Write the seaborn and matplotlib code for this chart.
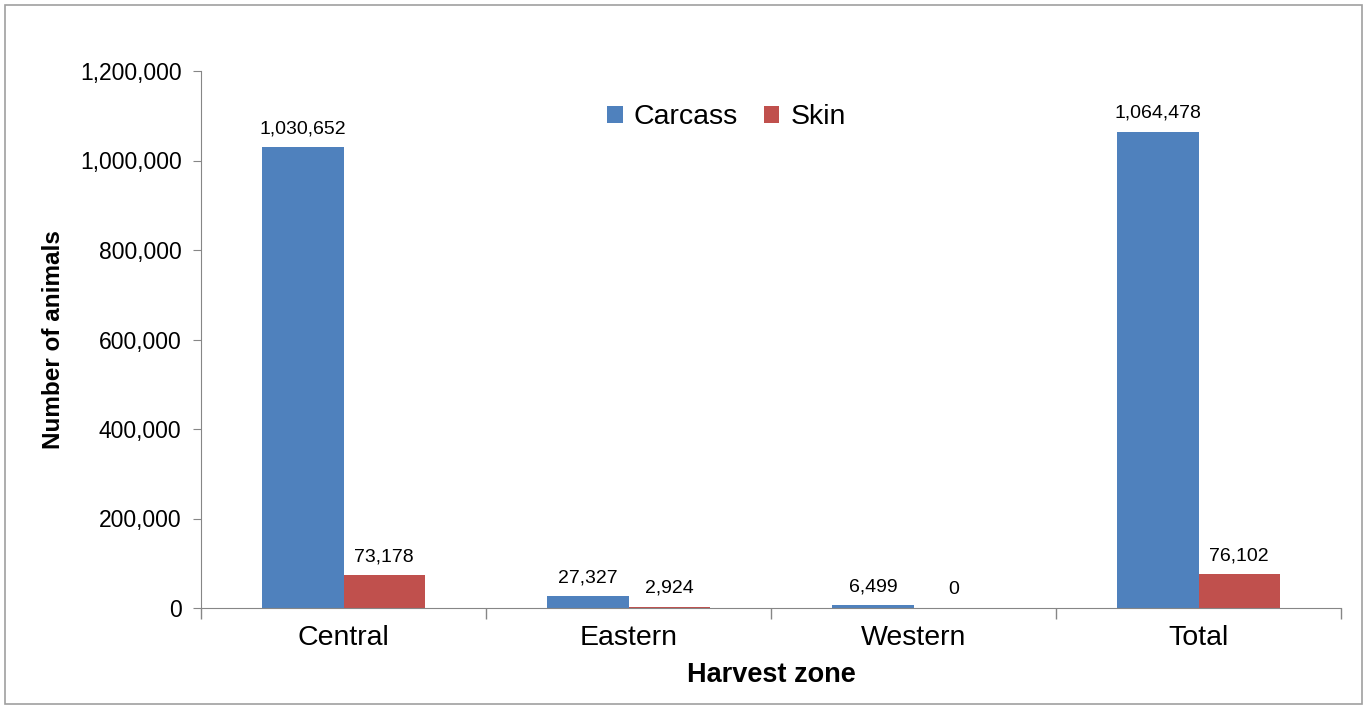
import pandas as pd
import numpy as np
import matplotlib
matplotlib.use("Agg")
import matplotlib.pyplot as plt
import seaborn as sns
from matplotlib.patches import Rectangle
from matplotlib.ticker import FuncFormatter, FixedLocator

# data
zones = ['Central', 'Eastern', 'Western', 'Total']
carcass = [1030652, 27327, 6499, 1064478]
skin = [73178, 2924, 0, 76102]
series = ['Carcass', 'Skin']
colors = ['#4F81BD', '#C0504D']

df = pd.DataFrame({
    'zone': zones * 2,
    'product': ['Carcass'] * len(zones) + ['Skin'] * len(zones),
    'count': carcass + skin,
})

sns.set_style("ticks")
plt.rcParams['font.family'] = ['Liberation Sans', 'DejaVu Sans']
plt.rcParams['text.color'] = 'black'
plt.rcParams['axes.labelcolor'] = 'black'

fig = plt.figure(figsize=(13.68, 7.09), dpi=100)
ax = fig.add_axes([201 / 1368, 1 - 608 / 709, 1140 / 1368, 537 / 709])

sns.barplot(data=df, x='zone', y='count', hue='product', order=zones,
            hue_order=series, palette=colors, width=0.57, saturation=1,
            edgecolor='none', linewidth=0, errorbar=None, ax=ax)

for cont, vals in zip(ax.containers, [carcass, skin]):
    ax.bar_label(cont, labels=[f'{v:,}' for v in vals], padding=7,
                 fontsize=14, color='black')

ax.set_xlim(-0.5, len(zones) - 0.5)
ax.set_ylim(0, 1200000)
ax.set_yticks(np.arange(0, 1200001, 200000))
ax.yaxis.set_major_formatter(FuncFormatter(lambda v, p: f'{int(v):,}'))
ax.tick_params(axis='y', labelsize=16.5, length=6, color='#868686',
               labelcolor='black', pad=8)

# category boundary ticks on x
ax.xaxis.set_minor_locator(FixedLocator(np.arange(-0.5, len(zones), 1.0)))
ax.tick_params(axis='x', which='major', length=0, labelsize=20.5, pad=12,
               labelcolor='black')
ax.tick_params(axis='x', which='minor', length=8, color='#868686', width=1)

ax.spines['top'].set_visible(False)
ax.spines['right'].set_visible(False)
ax.spines['left'].set_color('#868686')
ax.spines['bottom'].set_color('#868686')

ax.set_xlabel('Harvest zone', fontsize=19.5, fontweight='bold', labelpad=8)
ax.set_ylabel('Number of animals', fontsize=17.5, fontweight='bold', labelpad=11)

ax.legend(loc='center', bbox_to_anchor=(0.461, 0.914), ncol=2, frameon=False,
          fontsize=20.5, handlelength=0.55, handleheight=0.55, handletextpad=0.4,
          columnspacing=0.9)

fig.patches.append(Rectangle((5 / 1368, 5 / 709), 1357 / 1368, 699 / 709,
                             transform=fig.transFigure, fill=False,
                             edgecolor='#A0A0A0', linewidth=1.2))

fig.savefig('out.png', dpi=100)
